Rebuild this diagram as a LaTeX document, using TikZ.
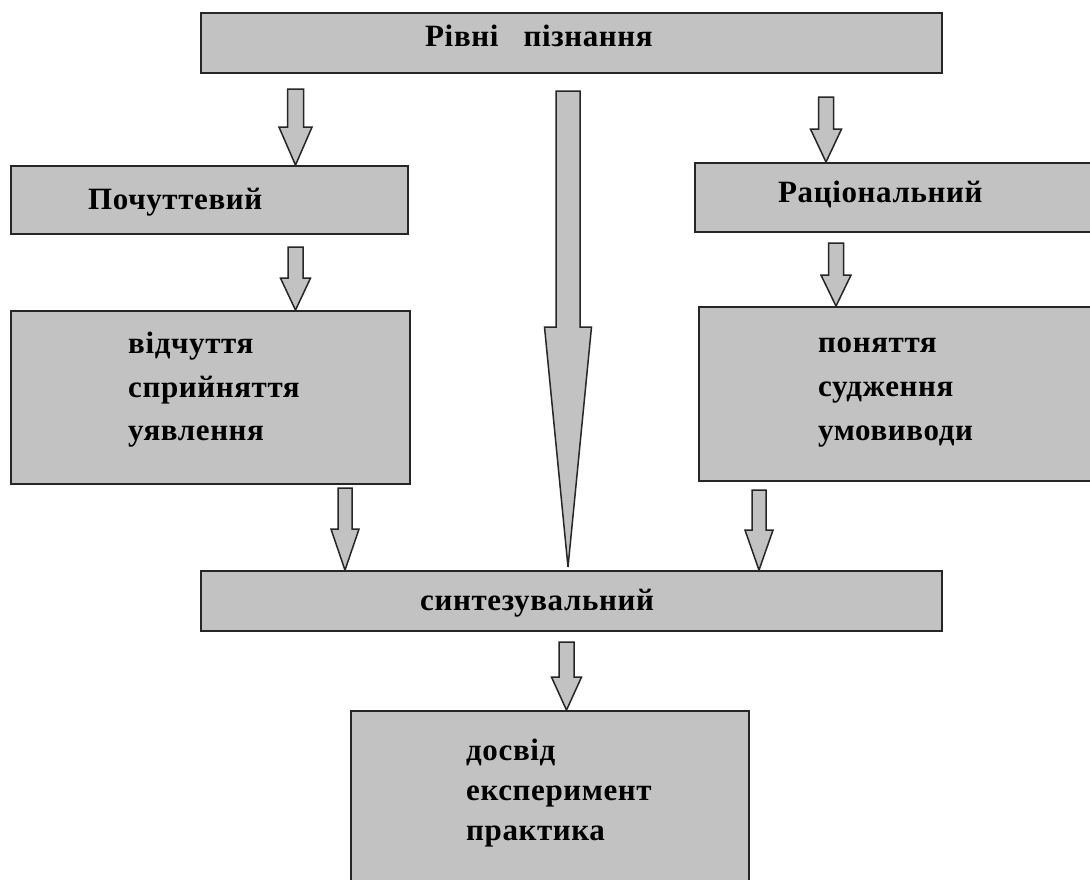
\documentclass[tikz,border=0pt]{standalone}
\usepackage{fontspec}
\usepackage{xcolor}
\usepackage{tikz}
\usetikzlibrary{calc}

\newfontfamily\boxfont[LetterSpace=2]{Liberation Serif}
\definecolor{boxgray}{RGB}{194,194,194}
\definecolor{edgegray}{RGB}{38,38,38}

\tikzset{
    levelbox/.style={draw=edgegray, line width=1.8pt, fill=boxgray, inner sep=0pt},
    arrowbody/.style={draw=edgegray, line width=1.5pt, fill=boxgray, line join=miter},
    boxtext/.style={anchor=base west, inner sep=0pt, font=\boxfont\bfseries\fontsize{31}{33}\selectfont}
}

% fat block arrow: start, tip, half shaft, half head, head length
\newcommand{\fatarrow}[5]{%
    \draw[arrowbody] let \p1=(#1), \p2=(#2) in
        (\x1-#3pt,\y1) -- (\x1+#3pt,\y1) -- (\x1+#3pt,\y2+#5pt) -- (\x1+#4pt,\y2+#5pt)
        -- (\x1,\y2) -- (\x1-#4pt,\y2+#5pt) -- (\x1-#3pt,\y2+#5pt) -- cycle;}

\begin{document}
\begin{tikzpicture}[x=1pt,y=-1pt]
    \useasboundingbox (0,0) rectangle (1090,879);
    \fill[white] (0,0) rectangle (1090,879);
    \clip (0,0) rectangle (1090,879);

    % boxes
    \node[levelbox, minimum width=741, minimum height=60] (levels) at (571.5,43) {};
    \node[levelbox, minimum width=397, minimum height=68] (sens) at (209.5,200) {};
    \node[levelbox, minimum width=399, minimum height=173] (sensitems) at (210.5,397.5) {};
    \node[levelbox, minimum width=405, minimum height=69] (rat) at (897.5,197.5) {};
    \node[levelbox, minimum width=401, minimum height=174] (ratitems) at (899.5,394) {};
    \node[levelbox, minimum width=741, minimum height=60] (synth) at (571.5,601) {};
    \node[levelbox, minimum width=398, minimum height=189] (practice) at (550,805.5) {};

    % box titles
    \node[boxtext] (levels-t) at (425,46) {Рівні\ \ \ пізнання};
    \node[boxtext] (sens-t) at (88,209) {Почуттевий};
    \node[boxtext] (rat-t) at (778,202) {Раціональний};
    \node[boxtext] (synth-t) at (420,610) {синтезувальний};

    % items
    \foreach \i/\y/\word in {1/353/відчуття, 2/397/сприйняття, 3/440/уявлення}
        \node[boxtext] (sensitem-\i) at (128,\y) {\word};
    \foreach \i/\y/\word in {1/352/поняття, 2/396/судження, 3/440/умовиводи}
        \node[boxtext] (ratitem-\i) at (818,\y) {\word};
    \foreach \i/\y/\word in {1/760/досвід, 2/800/експеримент, 3/840/практика}
        \node[boxtext] (practiceitem-\i) at (466,\y) {\word};

    % arrow tails
    \coordinate (a-sens) at (295.5,89);
    \coordinate (a-sensitems) at (295.5,247);
    \coordinate (a-mid) at (568,91);
    \coordinate (a-midtip) at (568,567);
    \coordinate (a-rat) at (826,97);
    \coordinate (a-ratitems) at (836,243);
    \coordinate (a-synthl) at (345,488);
    \coordinate (a-synthr) at (759,490);
    \coordinate (a-practice) at (566.5,642);

    \fatarrow{a-sens}{a-sens |- sens.north}{8}{16.5}{38}
    \fatarrow{a-sensitems}{a-sensitems |- sensitems.north}{7.5}{15}{32}
    \fatarrow{a-mid}{a-midtip}{12}{23.5}{240}
    \fatarrow{a-rat}{a-rat |- rat.north}{7.5}{15.5}{33}
    \fatarrow{a-ratitems}{a-ratitems |- ratitems.north}{7.5}{15}{31}
    \fatarrow{a-synthl}{a-synthl |- synth.north}{7}{14}{41}
    \fatarrow{a-synthr}{a-synthr |- synth.north}{7}{14}{40}
    \fatarrow{a-practice}{a-practice |- practice.north}{7.5}{15}{33}
\end{tikzpicture}
\end{document}
